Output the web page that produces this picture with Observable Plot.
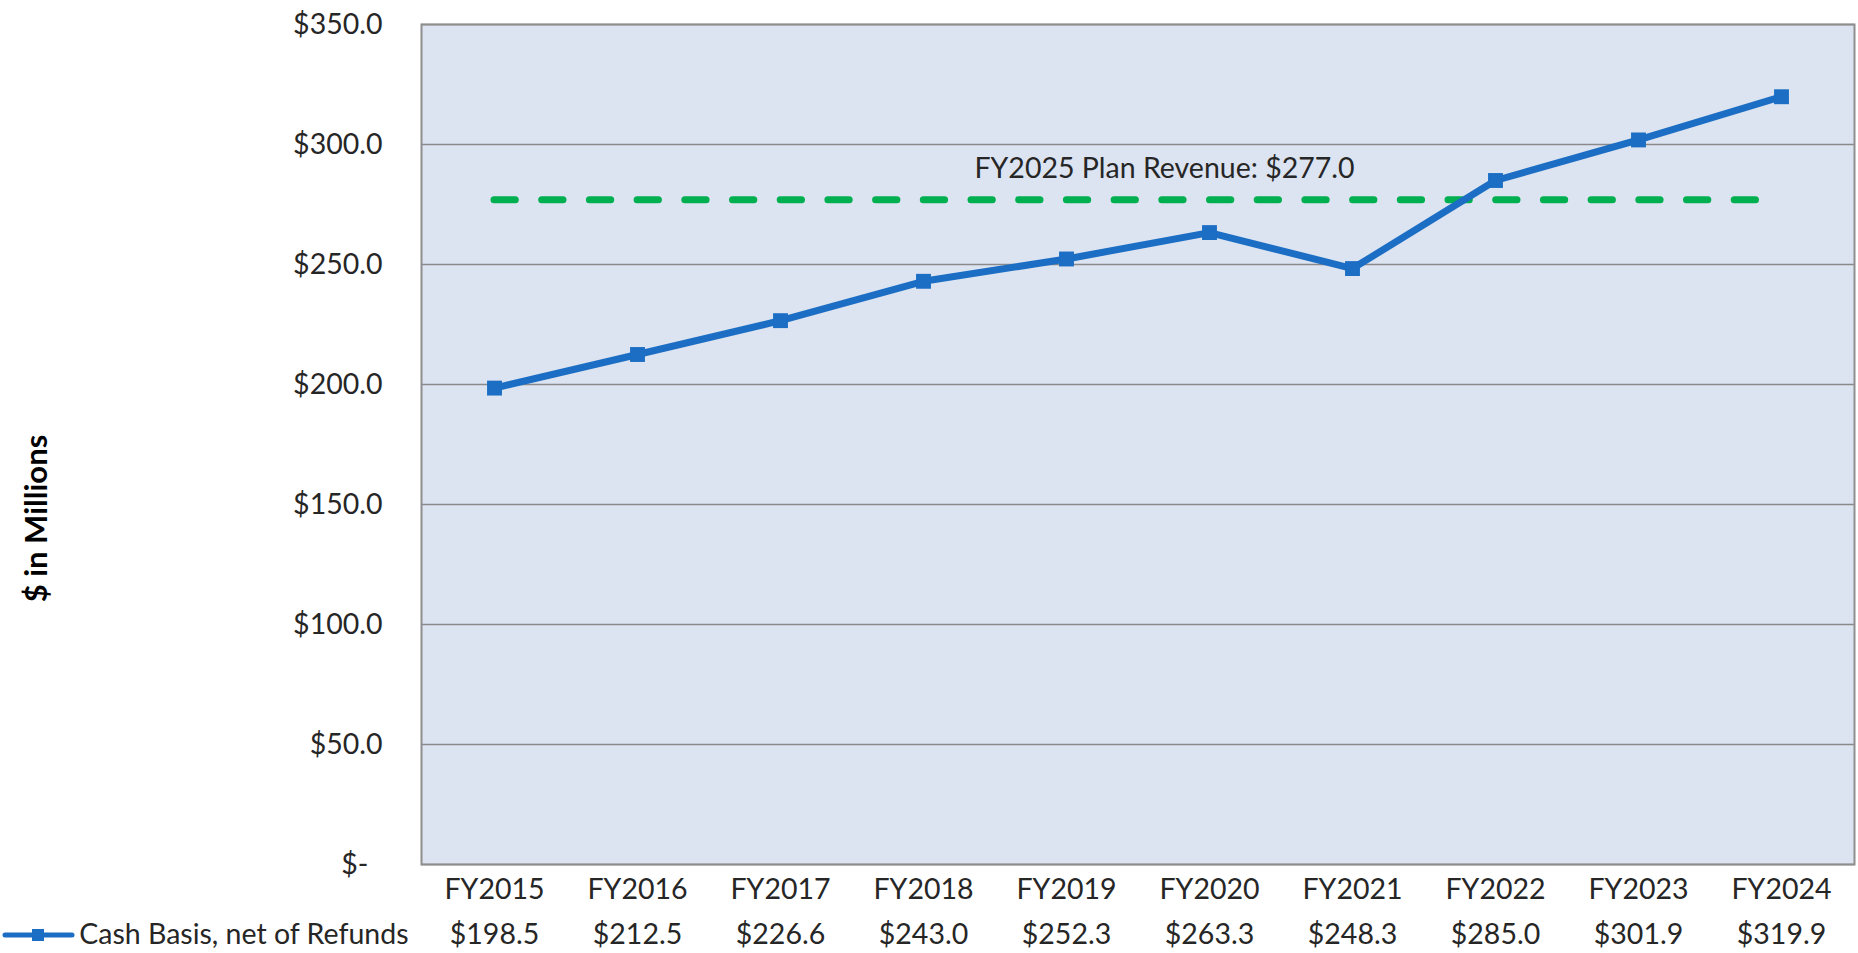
<!DOCTYPE html>
<html>
<head>
<meta charset="utf-8">
<script src="https://cdn.jsdelivr.net/npm/d3@7"></script>
<script src="https://cdn.jsdelivr.net/npm/@observablehq/plot@0.6"></script>
<style>
  html, body { margin: 0; padding: 0; background: #ffffff; }
  #chart { position: relative; width: 1858px; height: 953px; }
</style>
</head>
<body>
<div id="chart"></div>
<script>
// ---- data ----
const years = ["FY2015","FY2016","FY2017","FY2018","FY2019","FY2020","FY2021","FY2022","FY2023","FY2024"];
const cashBasis = [198.5, 212.5, 226.6, 243.0, 252.3, 263.3, 248.3, 285.0, 301.9, 319.9];
const seriesName = "Cash Basis, net of Refunds";
const planValue = 277.0;
const planLabel = "FY2025 Plan Revenue: $277.0";
const yTicks = [0, 50, 100, 150, 200, 250, 300, 350];
const yTitle = "$ in Millions";

const rows = years.map((y, i) => ({year: y, value: cashBasis[i]}));
const fmtMoney = d => d === 0 ? "$-\u2002" : "$" + d.toFixed(1);

const blue = "#1b6ec4";
const green = "#00b050";
const textColor = "#262626";
const fontSize = 28.5;

const chart = Plot.plot({
  width: 1858,
  height: 953,
  marginLeft: 421,
  marginRight: 4,
  marginTop: 24,
  marginBottom: 89,
  style: {fontFamily: "Lato, 'Open Sans', sans-serif", background: "#ffffff", color: textColor, overflow: "visible"},
  x: {type: "point", domain: years, padding: 0.5, axis: null},
  y: {domain: [0, 350], axis: null},
  marks: [
    Plot.frame({fill: "#dce3f1"}),
    Plot.gridY(yTicks, {stroke: "#8a8a8a", strokeOpacity: 1, strokeWidth: 1.5}),
    Plot.frame({stroke: "#8e8e8e", strokeWidth: 2}),
    Plot.axisY(yTicks, {tickFormat: fmtMoney, tickSize: 0, tickPadding: 39, fontSize: fontSize, fill: textColor, label: null}),
    // plan revenue line
    Plot.ruleY([planValue], {x1: () => years[0], x2: () => years[years.length - 1], stroke: green, strokeWidth: 7, strokeDasharray: "21.3,26.4", strokeLinecap: "round"}),
    Plot.text([planLabel], {x: () => "FY2020", y: () => planValue, text: d => d, dx: -45, dy: -31, fontSize: fontSize, fill: textColor}),
    // series
    Plot.lineY(rows, {x: "year", y: "value", stroke: blue, strokeWidth: 7, strokeLinejoin: "round"}),
    Plot.dot(rows, {x: "year", y: "value", symbol: "square", r: 8.4, fill: blue, stroke: "none"}),
    // data table under the chart
    Plot.text(years, {x: d => d, text: d => d, frameAnchor: "bottom", lineAnchor: "middle", dy: 25, fontSize: fontSize, fill: textColor}),
    Plot.text(rows, {x: "year", text: d => "$" + d.value.toFixed(1), frameAnchor: "bottom", lineAnchor: "middle", dy: 70, fontSize: fontSize, fill: textColor}),
    Plot.text([seriesName], {text: d => d, frameAnchor: "bottom-left", lineAnchor: "middle", dx: -13, dy: 70, textAnchor: "end", fontSize: fontSize, fill: textColor}),
    // y title
    Plot.text([yTitle], {text: d => d, frameAnchor: "left", lineAnchor: "middle", textAnchor: "middle", rotate: -90, dx: -384, dy: 74, fontSize: 31, fontWeight: "bold", fill: "#000000"})
  ]
});

// legend swatch for the table row
const svg = d3.select(chart);
const left = 421, bottom = 953 - 89;
const swY = bottom + 71;
svg.append("line").attr("x1", left - 416).attr("x2", left - 349).attr("y1", swY).attr("y2", swY)
  .attr("stroke", blue).attr("stroke-width", 5).attr("stroke-linecap", "round");
svg.append("rect").attr("x", left - 389).attr("y", swY - 6).attr("width", 12).attr("height", 12).attr("fill", blue);

document.getElementById("chart").appendChild(chart);
</script>
</body>
</html>
